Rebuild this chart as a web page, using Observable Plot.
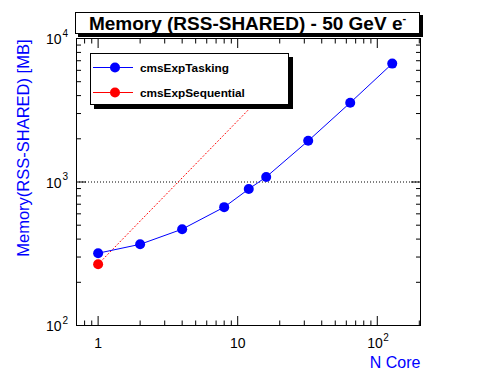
<!DOCTYPE html>
<html><head><meta charset="utf-8">
<script src="https://cdn.jsdelivr.net/npm/d3@7"></script>
<script src="https://cdn.jsdelivr.net/npm/@observablehq/plot@0.6"></script>
<style>
html,body{margin:0;padding:0;background:#fff;}
#wrap{position:relative;width:496px;height:372px;font-family:"Liberation Sans",Arial,Helvetica,sans-serif;}
#title{position:absolute;left:75px;top:12px;width:343px;height:20px;border:1px solid #000;box-shadow:3px 3px 0 #000;background:#fff;font-weight:bold;font-size:19px;text-align:center;line-height:21px;white-space:nowrap;}
#title sup{font-size:11px;vertical-align:top;line-height:10px;}
#legend{position:absolute;left:90px;top:53px;width:197px;height:50px;border:1px solid #000;box-shadow:4px 4px 0 #000;background:#fff;}
</style></head><body>
<div id="wrap"><div id="chart"></div><div id="title">Memory (RSS-SHARED) - 50 GeV e<sup>-</sup></div><div id="legend"></div></div>
<script>
const cores = [1, 2, 4, 8, 12, 16, 32, 64, 128];
const taskingMB = [319, 368, 469, 668, 893, 1084, 1936, 3567, 6683];
const seqCores = [1];
const seqMB = [267];
const idealCores = [1, 16];
const idealMB = [267, 4272];
const refLine = [1000];
const xMajor = [1, 10, 100];
const xLabelBase = ["1", "10", "10"];
const xLabelExp = ["", "", "2"];
const xMinor = [0.8, 0.9, 2, 3, 4, 5, 6, 7, 8, 9, 20, 30, 40, 50, 60, 70, 80, 90, 200];
const yMajor = [100, 1000, 10000];
const yLabelBase = ["10", "10", "10"];
const yLabelExp = ["2", "3", "4"];
const yMinor = [200, 300, 400, 500, 600, 700, 800, 900, 2000, 3000, 4000, 5000, 6000, 7000, 8000, 9000];
const seriesNames = ["cmsExpTasking", "cmsExpSequential"];
const seriesColors = ["blue", "red"];

const tasking = cores.map((c, i) => ({c, m: taskingMB[i]}));
const seq = seqCores.map((c, i) => ({c, m: seqMB[i]}));
const ideal = idealCores.map((c, i) => ({c, m: idealMB[i]}));
const xLab = xMajor.map((v, i) => ({v, b: xLabelBase[i], e: xLabelExp[i]}));
const yLab = yMajor.map((v, i) => ({v, b: yLabelBase[i], e: yLabelExp[i]}));
const font = "Liberation Sans, Arial, Helvetica, sans-serif";
const noText = () => "";

const chart = Plot.plot({
  width: 496, height: 372,
  marginLeft: 76, marginRight: 76, marginTop: 38, marginBottom: 47,
  style: {fontFamily: font, background: "white", color: "black"},
  x: {type: "log", domain: [0.7, 204]},
  y: {type: "log", domain: [100, 10000]},
  marks: [
    Plot.ruleY(refLine, {y: d => d, stroke: "black", strokeDasharray: "1,2", strokeWidth: 1}),
    Plot.line(ideal, {x: "c", y: "m", stroke: "red", strokeDasharray: "1,2.5", strokeWidth: 1}),
    Plot.line(tasking, {x: "c", y: "m", stroke: "blue", strokeWidth: 1}),
    Plot.dot(tasking, {x: "c", y: "m", fill: "blue", r: 5}),
    Plot.dot(seq, {x: "c", y: "m", fill: "red", r: 5}),
    Plot.axisX(xMajor, {anchor: "bottom", tickSize: -9, tickFormat: noText, label: null}),
    Plot.axisX(xMinor, {anchor: "bottom", tickSize: -4.5, tickFormat: noText, label: null}),
    Plot.axisX(xMajor, {anchor: "top", tickSize: -9, tickFormat: noText, label: null}),
    Plot.axisX(xMinor, {anchor: "top", tickSize: -4.5, tickFormat: noText, label: null}),
    Plot.axisY(yMajor, {anchor: "left", tickSize: -10, tickFormat: noText, label: null}),
    Plot.axisY(yMinor, {anchor: "left", tickSize: -5, tickFormat: noText, label: null}),
    Plot.axisY(yMajor, {anchor: "right", tickSize: -10, tickFormat: noText, label: null}),
    Plot.axisY(yMinor, {anchor: "right", tickSize: -5, tickFormat: noText, label: null}),
    Plot.frame({stroke: "black", strokeWidth: 1}),
    // y tick labels
    Plot.text(yLab, {y: "v", frameAnchor: "left", text: "b", textAnchor: "end", dx: -15, dy: 1.5, fontSize: 14, fill: "black"}),
    Plot.text(yLab, {y: "v", frameAnchor: "left", text: "e", textAnchor: "start", dx: -14, dy: -5, fontSize: 10, fill: "black"}),
    // x tick labels
    Plot.text(xLab.filter(d => !d.e), {x: "v", frameAnchor: "bottom", text: "b", textAnchor: "middle", dy: 22, fontSize: 14, fill: "black"}),
    Plot.text(xLab.filter(d => d.e), {x: "v", frameAnchor: "bottom", text: "b", textAnchor: "end", dx: 5.5, dy: 22, fontSize: 14, fill: "black"}),
    Plot.text(xLab.filter(d => d.e), {x: "v", frameAnchor: "bottom", text: "e", textAnchor: "start", dx: 6, dy: 15.5, fontSize: 10, fill: "black"}),
    // axis titles
    Plot.text(["Memory(RSS-SHARED) [MB]"], {frameAnchor: "top-left", text: d => d, rotate: -90, textAnchor: "end", dx: -59, dy: 1, fontSize: 16.5, fill: "blue"}),
    Plot.text(["N Core"], {frameAnchor: "bottom-right", text: d => d, textAnchor: "end", dy: 42, fontSize: 16, fill: "blue"})
  ]
});
document.getElementById("chart").appendChild(chart);

// legend
const lg = d3.select("#legend").append("svg").attr("width", 197).attr("height", 50)
  .style("display", "block").style("font-family", font);
seriesNames.forEach((name, i) => {
  const yy = 13.5 + i * 25;
  lg.append("line").attr("x1", 2).attr("x2", 42).attr("y1", yy).attr("y2", yy)
    .attr("stroke", seriesColors[i]).attr("stroke-width", 1);
  lg.append("circle").attr("cx", 24).attr("cy", yy).attr("r", 5).attr("fill", seriesColors[i]);
  lg.append("text").attr("x", 49).attr("y", yy).attr("dy", "0.35em")
    .attr("font-weight", "bold").attr("font-size", 11.8).text(name);
});
</script>
</body></html>
